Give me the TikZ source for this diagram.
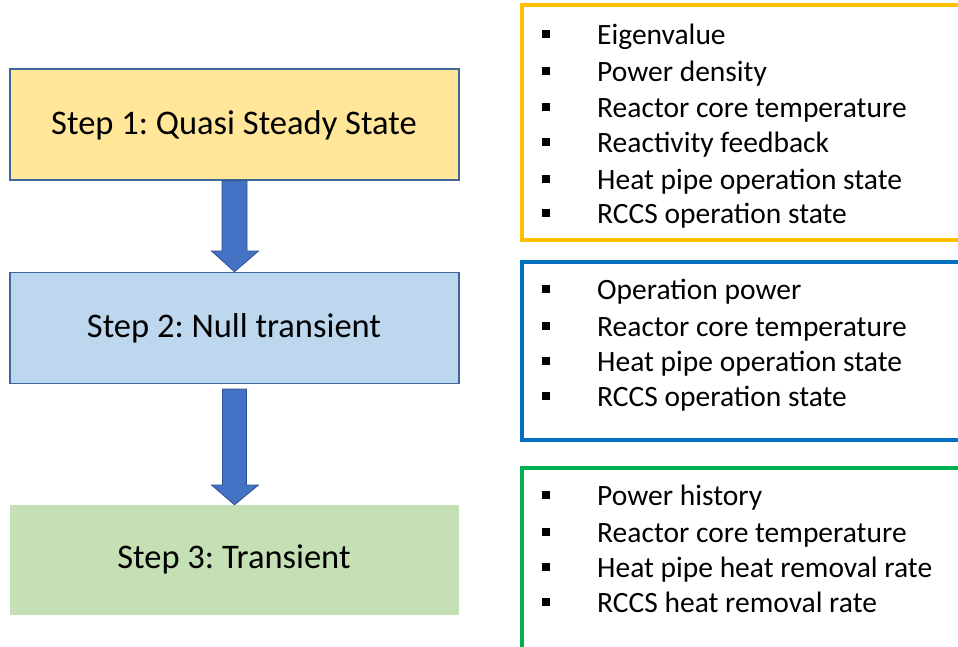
\documentclass[tikz,border=0pt]{standalone}
\usepackage{fontspec}
\setmainfont{Carlito}
\frenchspacing
\definecolor{stepborder}{HTML}{3F6699}
\definecolor{yfill}{HTML}{FFE699}
\definecolor{bfill}{HTML}{BDD7EE}
\definecolor{gfill}{HTML}{C5E0B4}
\definecolor{arrfill}{HTML}{4472C4}
\definecolor{arrdraw}{HTML}{2F528F}
\definecolor{orangeb}{HTML}{FFC000}
\definecolor{blueb}{HTML}{0070C0}
\definecolor{greenb}{HTML}{00B050}
\tikzset{
  stepbox/.style={minimum width=449pt, minimum height=111pt, inner sep=0pt},
  steptext/.style={anchor=base, inner sep=0pt, font=\fontsize{34.5}{40}\selectfont},
  bigarrow/.style={fill=arrfill, draw=arrdraw, line width=0.8pt, line join=miter},
  listbox/.style={line width=4pt},
  item/.style={anchor=base west, inner sep=0pt, font=\fontsize{29.5}{34}\selectfont},
  bul/.style={fill=black, minimum size=8pt, inner sep=0pt}
}
\begin{document}
\begin{tikzpicture}[x=1pt,y=-1pt]
\useasboundingbox (0,0) rectangle (958,646);
\clip (0,0) rectangle (958,646);
% left step boxes
\node[stepbox, fill=yfill, draw=stepborder, line width=1.6pt] (s1) at (234.5,124.5) {};
\node[steptext] (t1) at (234,134) {Step 1: Quasi Steady State};
\node[stepbox, fill=bfill, draw=stepborder, line width=1.6pt] (s2) at (234.5,328) {};
\node[steptext] (t2) at (234,337) {Step 2: Null transient};
\node[stepbox, fill=gfill, minimum height=110pt] (s3) at (234.5,560) {};
\node[steptext] (t3) at (234,568) {Step 3: Transient};
% arrows
\draw[bigarrow] ([xshift=-12.5pt]s1.south) -- ([xshift=-12.5pt]s1.south |- 0,251) -- ([xshift=-23pt]s1.south |- 0,251)
  -- (s2.north) -- ([xshift=24pt]s1.south |- 0,251) -- ([xshift=12.5pt]s1.south |- 0,251) -- ([xshift=12.5pt]s1.south) -- cycle;
\coordinate (a2) at (s2.south |- 0,389);
\draw[bigarrow] ([xshift=-12pt]a2) -- ([xshift=-12pt]a2 |- 0,485) -- ([xshift=-23pt]a2 |- 0,485)
  -- (s3.north) -- ([xshift=24pt]a2 |- 0,485) -- ([xshift=12pt]a2 |- 0,485) -- ([xshift=12pt]a2) -- cycle;
% list boxes
\draw[listbox, draw=orangeb] (966,5) -- (522,5) -- (522,240) -- (966,240);
\draw[listbox, draw=blueb] (966,262) -- (522,262) -- (522,440) -- (966,440);
\draw[listbox, draw=greenb] (966,468) -- (522,468) -- (522,660);
% items
\foreach \y/\t [count=\i] in {44/Eigenvalue,81/Power density,117/Reactor core temperature,152/Reactivity feedback,189/Heat pipe operation state,223/RCCS operation state}{
  \node[bul] (ba\i) at (546,\y-10) {};
  \node[item] (ta\i) at (597,\y) {\t};
}
\foreach \y/\t [count=\i] in {299/Operation power,336/Reactor core temperature,371/Heat pipe operation state,406/RCCS operation state}{
  \node[bul] (bb\i) at (546,\y-10) {};
  \node[item] (tb\i) at (597,\y) {\t};
}
\foreach \y/\t [count=\i] in {505/Power history,542/Reactor core temperature,577/Heat pipe heat removal rate,612/RCCS heat removal rate}{
  \node[bul] (bc\i) at (546,\y-10) {};
  \node[item] (tc\i) at (597,\y) {\t};
}
\end{tikzpicture}
\end{document}
